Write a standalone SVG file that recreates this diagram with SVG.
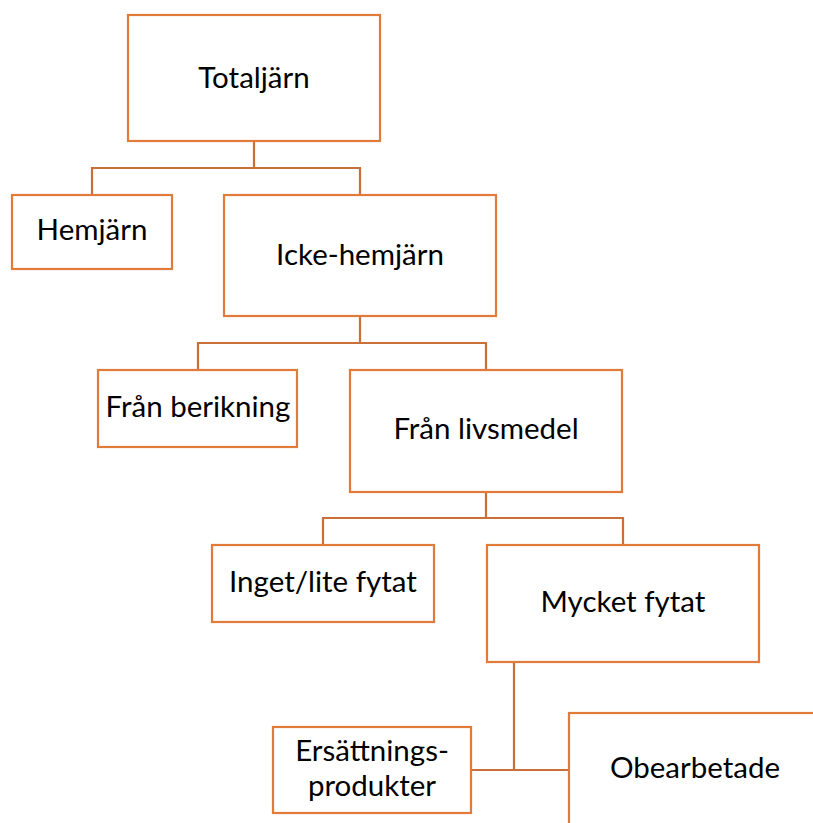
<svg xmlns="http://www.w3.org/2000/svg" width="813" height="823" viewBox="0 0 813 823">
<style>
.box{fill:#fff;stroke:#E07B39;stroke-width:2.2}
.ln{fill:none;stroke:#C9703A;stroke-width:2.2}
text{font-family:Lato,"Open Sans",sans-serif;font-size:29.5px;fill:#000;text-anchor:middle}
</style>
<rect width="813" height="823" fill="#fff"/>
<g id="connectors">
<path class="ln" d="M254 141V168M92 195V168H360V195"/>
<path class="ln" d="M360 316V343M198 370V343H486V370"/>
<path class="ln" d="M486 492V518M323 545V518H623V545"/>
<path class="ln" d="M514 662V770M471 770H569"/>
</g>
<g id="totaljarn"><rect class="box" x="128" y="15" width="252" height="126"/><text x="254" y="88">Totaljärn</text></g>
<g id="hemjarn"><rect class="box" x="12" y="195" width="160" height="74"/><text x="92" y="240">Hemjärn</text></g>
<g id="icke-hemjarn"><rect class="box" x="224" y="195" width="272" height="121"/><text x="360" y="265">Icke-hemjärn</text></g>
<g id="fran-berikning"><rect class="box" x="98" y="370" width="199" height="77"/><text x="198" y="417">Från berikning</text></g>
<g id="fran-livsmedel"><rect class="box" x="350" y="370" width="272" height="122"/><text x="486" y="439">Från livsmedel</text></g>
<g id="inget-lite-fytat"><rect class="box" x="212" y="545" width="222" height="77"/><text x="323" y="592">Inget/lite fytat</text></g>
<g id="mycket-fytat"><rect class="box" x="487" y="545" width="272" height="117"/><text x="623" y="612">Mycket fytat</text></g>
<g id="ersattningsprodukter"><rect class="box" x="273" y="727" width="198" height="86"/><text x="372" y="761">Ersättnings-</text><text x="372" y="796">produkter</text></g>
<g id="obearbetade"><rect class="box" x="569" y="713" width="260" height="130"/><text x="695" y="778">Obearbetade</text></g>
</svg>
